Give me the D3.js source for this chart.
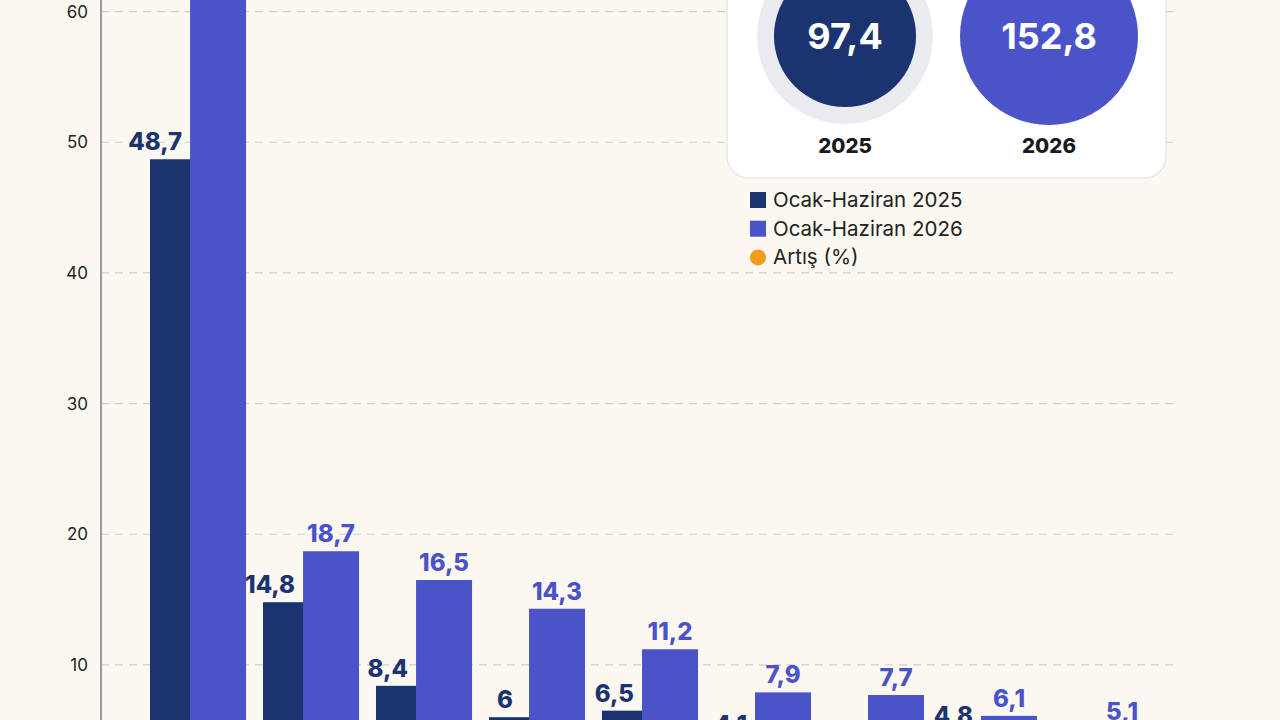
<!DOCTYPE html>
<html lang="tr">
<head>
    <meta charset="UTF-8">
    <title>Ocak-Haziran 2025 / 2026</title>
    <script src="https://d3js.org/d3.v7.min.js"></script>
    <style>
        body {
            margin: 0;
            background: #fbf8f1;
            font-family: "Inter", "Lato", sans-serif;
        }
        .grid line {
            stroke: #d2d0cb;
            stroke-width: 1.2;
            stroke-dasharray: 8,6;
        }
        .y-axis text {
            font-size: 17px;
            fill: #222;
        }
        .val {
            font-size: 24px;
            font-weight: 800;
        }
        .legend text {
            font-size: 20.5px;
            fill: #222;
        }
    </style>
</head>
<body>
    <div id="chart"></div>

    <script>
        // Veriler (kategoriler görüntünün alt kısmında kesik, okunamıyor)
        const categories = ["K1", "K2", "K3", "K4", "K5", "K6", "K7", "K8", "K9"];
        const values2025 = [48.7, 14.8, 8.4, 6, 6.5, 4.1, 2.3, 4.8, 1.8];
        const values2026 = [65.3, 18.7, 16.5, 14.3, 11.2, 7.9, 7.7, 6.1, 5.1];
        const totals = [97.4, 152.8];
        const totalYears = ["2025", "2026"];
        const yTicks = [10, 20, 30, 40, 50, 60];
        const legendItems = ["Ocak-Haziran 2025", "Ocak-Haziran 2026", "Artış (%)"];

        const width = 1280;
        const height = 720;
        const colors = { dark: "#1b346f", light: "#4b53c8", orange: "#f39c1a" };
        const fmt = v => String(v).replace(".", ",");

        const svg = d3.select("#chart")
            .append("svg")
            .attr("width", width)
            .attr("height", height);

        // Ölçekler
        const y = d3.scaleLinear().domain([0, 60]).range([795.6, 11.6]);
        const x = d3.scaleBand().domain(categories).range([150, 1150]).paddingInner(0.15);
        const barW = x.bandwidth() * 0.583;

        // Izgara çizgileri
        svg.append("g")
            .attr("class", "grid")
            .selectAll("line")
            .data(yTicks)
            .enter().append("line")
            .attr("x1", 101)
            .attr("x2", 1175)
            .attr("y1", d => y(d))
            .attr("y2", d => y(d));

        // Y ekseni
        const yAxis = svg.append("g")
            .attr("class", "y-axis")
            .attr("transform", "translate(101,0)")
            .call(d3.axisLeft(y).tickValues(yTicks).tickSize(0).tickPadding(13));
        yAxis.select(".domain").remove();
        yAxis.attr("font-family", null).attr("font-size", null);

        svg.append("line")
            .attr("x1", 101).attr("x2", 101)
            .attr("y1", 0).attr("y2", height)
            .attr("stroke", "#9a9a9a")
            .attr("stroke-width", 2);

        // Çubuklar
        const groups = svg.append("g").selectAll("g")
            .data(categories)
            .enter().append("g");

        groups.append("rect")
            .attr("x", d => x(d))
            .attr("y", (d, i) => y(values2025[i]))
            .attr("width", barW)
            .attr("height", (d, i) => y(0) - y(values2025[i]))
            .attr("fill", colors.dark);

        groups.append("rect")
            .attr("x", d => x(d) + x.bandwidth() - barW)
            .attr("y", (d, i) => y(values2026[i]))
            .attr("width", barW)
            .attr("height", (d, i) => y(0) - y(values2026[i]))
            .attr("fill", colors.light);

        // Değer etiketleri
        groups.append("text")
            .attr("class", "val")
            .attr("text-anchor", "middle")
            .attr("fill", colors.light)
            .attr("x", d => x(d) + x.bandwidth() - barW / 2)
            .attr("y", (d, i) => y(values2026[i]) - 9)
            .text((d, i) => fmt(values2026[i]));

        groups.append("text")
            .attr("class", "val")
            .attr("text-anchor", "middle")
            .attr("fill", colors.dark)
            .attr("y", (d, i) => y(values2025[i]) - 9)
            .text((d, i) => fmt(values2025[i]))
            .attr("x", function (d) {
                const lightStart = x(d) + x.bandwidth() - barW;
                const w = this.getComputedTextLength();
                const c = (x(d) + lightStart) / 2 - 4;
                return Math.min(c, lightStart - 8 - w / 2);
            });

        // Toplam kartı
        const card = svg.append("g");
        card.append("rect")
            .attr("x", 727).attr("y", -40)
            .attr("width", 439).attr("height", 218)
            .attr("rx", 22)
            .attr("fill", "#fff")
            .attr("stroke", "#e2e2e2")
            .attr("stroke-width", 1.2);

        const r = d3.scaleSqrt().domain([0, d3.max(totals)]).range([0, 89]);
        const cx = d3.scalePoint().domain(totalYears).range([845, 1049]);

        card.append("circle")
            .attr("cx", cx("2025")).attr("cy", 36)
            .attr("r", r(d3.max(totals)) - 1)
            .attr("fill", "#e9ebef");

        totalYears.forEach((yr, i) => {
            card.append("circle")
                .attr("cx", cx(yr)).attr("cy", 36)
                .attr("r", r(totals[i]))
                .attr("fill", i === 0 ? colors.dark : colors.light);
            card.append("text")
                .attr("x", cx(yr)).attr("y", 49)
                .attr("text-anchor", "middle")
                .attr("fill", "#fff")
                .attr("font-size", 36)
                .attr("font-weight", 700)
                .text(fmt(totals[i]));
            card.append("text")
                .attr("x", cx(yr)).attr("y", 153)
                .attr("text-anchor", "middle")
                .attr("fill", "#1a1a1a")
                .attr("font-size", 20.5)
                .attr("font-weight", 800)
                .text(yr);
        });

        // Lejant
        const legend = svg.append("g").attr("class", "legend");
        const legendColors = [colors.dark, colors.light, colors.orange];
        legendItems.forEach((t, i) => {
            const cy = 200 + i * 28.7;
            if (i < 2) {
                legend.append("rect")
                    .attr("x", 750).attr("y", cy - 8)
                    .attr("width", 16).attr("height", 16)
                    .attr("fill", legendColors[i]);
            } else {
                legend.append("circle")
                    .attr("cx", 758).attr("cy", cy)
                    .attr("r", 8)
                    .attr("fill", legendColors[i]);
            }
            legend.append("text")
                .attr("x", 773).attr("y", cy + 7)
                .text(t);
        });
    </script>
</body>
</html>
